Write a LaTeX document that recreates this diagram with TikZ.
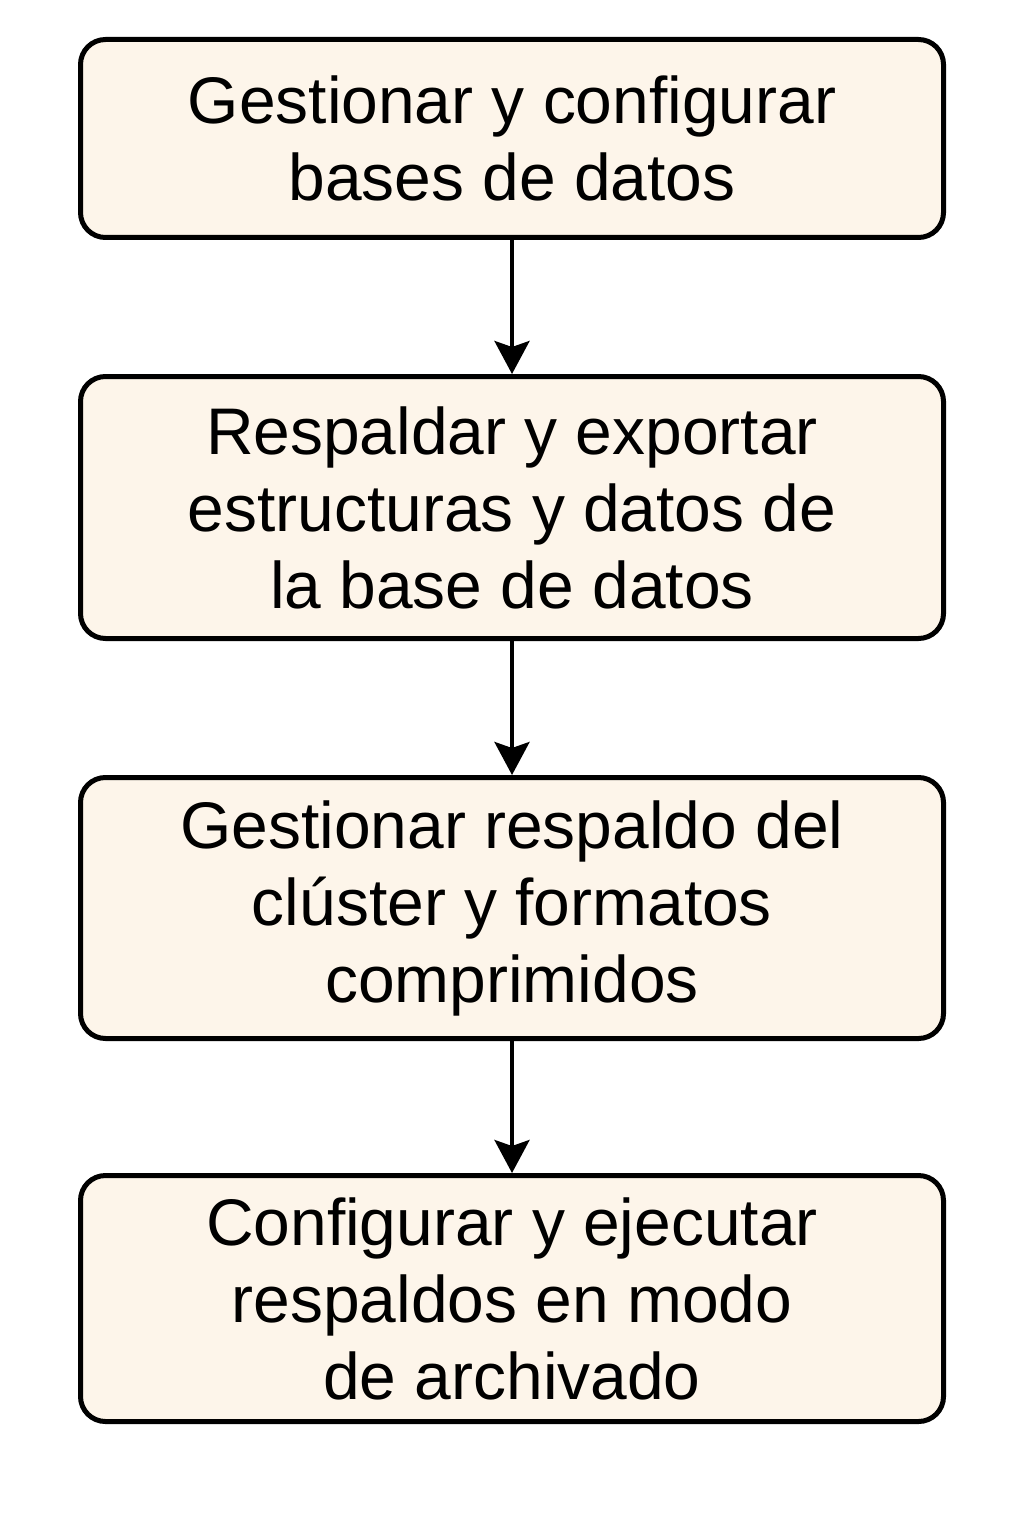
\documentclass[tikz,border=0pt]{standalone}
\usepackage{fontspec}
\setmainfont{Liberation Sans}
\usepackage{xcolor}
\usepackage{tikz}
\usetikzlibrary{arrows.meta,positioning}

\definecolor{boxfill}{RGB}{253,245,234}

\begin{document}
\begin{tikzpicture}[
    node distance=2.68cm,
    box/.style={rectangle, rounded corners=0.5cm, draw, line width=0.1cm, fill=boxfill,
        minimum width=17.26cm, align=center, font=\fontsize{37.5}{43.8}\selectfont},
    arrow/.style={-{Stealth[length=0.66cm, width=0.7cm, inset=0.12cm]}, line width=0.08cm}
]
\useasboundingbox (0,0) rectangle (20.48,-30.72);

% Main path
\node[box, minimum height=3.96cm] (manage) at (10.24,-2.77) {Gestionar y configurar\\bases de datos};
\node[box, minimum height=5.24cm, below=of manage] (export) {Respaldar y exportar\\estructuras y datos de\\la base de datos};
\node[box, minimum height=5.22cm, below=of export] (cluster) {Gestionar respaldo del\\clúster y formatos\\comprimidos};
\node[box, minimum height=4.92cm, below=2.64cm of cluster] (archive) {Configurar y ejecutar\\respaldos en modo\\de archivado};

% Arrows
\draw[arrow] (manage) -- (export);
\draw[arrow] (export) -- (cluster);
\draw[arrow] (cluster) -- (archive);

\end{tikzpicture}
\end{document}
